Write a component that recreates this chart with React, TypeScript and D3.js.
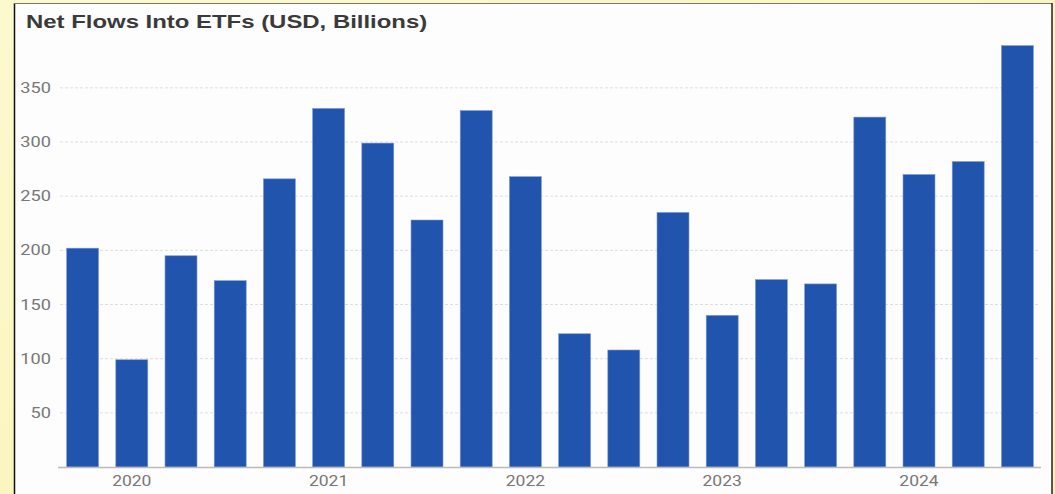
import React from "react";
import * as d3 from "d3";

const quarters = [
  "2020Q1","2020Q2","2020Q3","2020Q4",
  "2021Q1","2021Q2","2021Q3","2021Q4",
  "2022Q1","2022Q2","2022Q3","2022Q4",
  "2023Q1","2023Q2","2023Q3","2023Q4",
  "2024Q1","2024Q2","2024Q3","2024Q4",
];
const flows = [202, 99, 195, 172, 266, 331, 299, 228, 329, 268, 123, 108, 235, 140, 173, 169, 323, 270, 282, 389];
const yTicks = [50, 100, 150, 200, 250, 300, 350];
const yearLabels = ["2020", "2021", "2022", "2023", "2024"];
const yearLabelQuarter = ["2020Q2", "2021Q2", "2022Q2", "2023Q2", "2024Q2"];
const title = "Net Flows Into ETFs (USD, Billions)";

export default function App() {
  const W = 1055, H = 494;
  const x = d3.scaleBand<string>().domain(quarters).range([58, 1042]).paddingInner(0.35).paddingOuter(0.175);
  const y = d3.scaleLinear().domain([0, 350]).range([467, 467 - 350 * 1.0833]);
  const font = "Roboto, 'Liberation Sans', Arial, sans-serif";
  const sx = 1.3;
  return (
    <svg width={W} height={H} style={{ position: "absolute", left: 0, top: 0 }}>
      <defs>
        <linearGradient id="bg" x1="0" y1="0" x2="1" y2="1">
          <stop offset="0" stopColor="#fdf9cf" />
          <stop offset="0.5" stopColor="#fbf5c0" />
          <stop offset="1" stopColor="#f9efb0" />
        </linearGradient>
      </defs>
      <rect x={0} y={0} width={W} height={H} fill="url(#bg)" />
      <rect x={14} y={3} width={1038} height={H} fill="#fdfdfd" />
      <line x1={14.5} y1={3} x2={14.5} y2={H} stroke="#111" strokeWidth={1.5} />
      <line x1={14} y1={3.5} x2={1052} y2={3.5} stroke="#777" strokeWidth={1} />
      <line x1={1052} y1={3} x2={1052} y2={H} stroke="#222" strokeWidth={1.5} />
      <text
        transform="translate(26,28) scale(1.33,1)"
        fontFamily="'Liberation Sans', Arial, sans-serif"
        fontWeight="bold"
        fontSize={18}
        fill="#3a3a3a"
      >
        {title}
      </text>
      {yTicks.map((t) => (
        <g key={t}>
          <line x1={60} x2={1040} y1={y(t)} y2={y(t)} stroke="#dedede" strokeDasharray="3,2" />
          <text
            transform={`translate(51,${y(t)}) scale(${sx},1)`}
            dy="0.36em"
            textAnchor="end"
            fontFamily={font}
            fontSize={14}
            fill="#777"
          >
            {t}
          </text>
        </g>
      ))}
      {quarters.map((q, i) => (
        <rect
          key={q}
          x={x(q)!}
          y={y(flows[i])}
          width={x.bandwidth()}
          height={y(0) - y(flows[i])}
          fill="#2155ad"
          stroke="#7f9ad4"
          strokeWidth={0.6}
        />
      ))}
      <line x1={58} x2={1041} y1={467.5} y2={467.5} stroke="#bbb" strokeWidth={1.5} />
      {yearLabels.map((lbl, i) => (
        <text
          key={lbl}
          transform={`translate(${x(yearLabelQuarter[i])! + x.bandwidth() / 2},486) scale(1.25,1)`}
          textAnchor="middle"
          fontFamily={font}
          fontSize={14}
          fill="#777"
        >
          {lbl}
        </text>
      ))}
    </svg>
  );
}
